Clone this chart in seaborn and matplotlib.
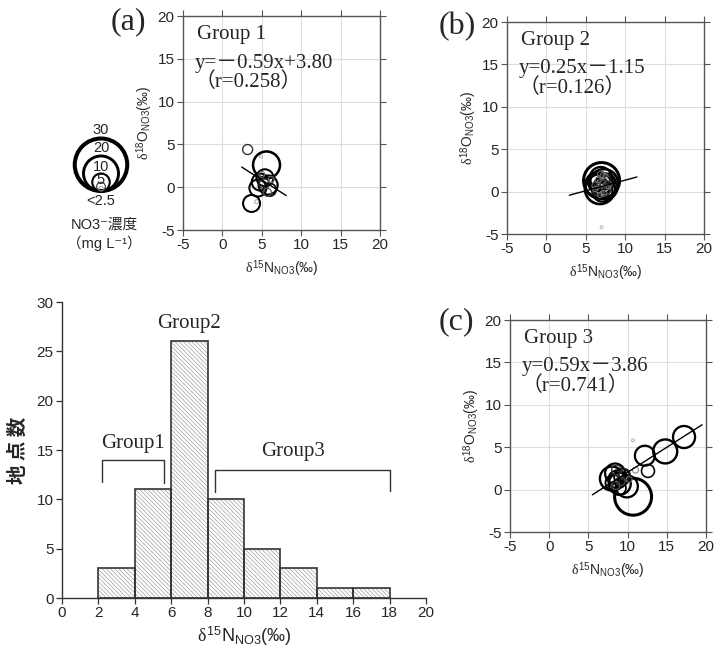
import numpy as np
import seaborn as sns
import matplotlib.pyplot as plt

# histogram of d15N-NO3 (2 permil bins)
bin_edges = [2, 4, 6, 8, 10, 12, 14, 16, 18]
bin_counts = [3, 11, 26, 10, 5, 3, 1, 1]

# group 1 -> panel (a)
g1_n15 = [3.2, 4.9, 5.6, 4.8, 5.8, 4.5, 5.4, 6.0, 3.7, 4.35, 5.3, 5.0, 5.7, 6.2]
g1_o18 = [4.4, 3.6, 2.6, 0.6, 0.25, -0.1, 1.1, -0.3, -1.9, -1.7, 0.4, 1.5, -0.6, 0.9]
g1_no3 = [5.7, 1.7, 15.4, 9.7, 10.9, 9.7, 9.7, 7.4, 9.7, 2.3, 5.7, 3.4, 4.6, 3.4]

# group 2 -> panel (b)
g2_n15 = [7.0, 6.8, 7.3, 6.6, 7.5, 6.9, 7.1, 6.4, 7.7, 7.2, 6.7, 7.4, 6.5,
          7.0, 7.6, 6.3, 7.8, 6.9, 7.2, 6.6, 7.3, 6.8, 7.5, 6.2, 7.9, 7.0]
g2_o18 = [1.3, 0.3, 1.0, 0.8, 0.5, 1.6, 0.0, 1.1, 1.2, 0.6, 0.4, 1.5, 0.1,
          0.9, 0.2, 0.7, 0.8, 2.0, 1.9, 1.4, -0.2, -0.4, 1.8, 0.3, 0.5, -4.2]
g2_no3 = [20.6, 17.1, 16.0, 14.9, 13.7, 12.6, 11.4, 10.3, 9.1, 8.0, 6.9, 6.3, 5.7,
          5.1, 5.1, 4.6, 4.6, 4.0, 3.4, 3.4, 3.4, 2.9, 2.9, 2.9, 2.3, 1.7]

# group 3 -> panel (c)
g3_n15 = [10.7, 17.2, 14.8, 12.2, 12.6, 10.7, 8.0, 9.0, 8.4, 9.9,
          8.7, 9.3, 8.9, 8.2, 9.6, 8.6, 11.0, 9.1, 8.5, 10.2]
g3_o18 = [-0.84, 6.2, 4.5, 4.0, 2.2, 5.8, 1.3, 0.7, 1.9, 0.38,
          1.2, 1.5, 0.2, 0.8, 1.8, 2.3, 2.3, 1.0, 0.5, 1.2]
g3_no3 = [21.1, 12.6, 13.7, 11.4, 7.4, 1.7, 13.7, 12.6, 11.4, 12.6,
          10.3, 9.1, 8.0, 9.1, 6.3, 5.7, 3.4, 5.1, 4.6, 3.4]

# regression lines
fit_slope = [-0.59, 0.25, 0.59]
fit_icpt = [3.80, -1.15, -3.86]
fit_xmin = [2.45, 2.9, 5.5]
fit_xmax = [8.1, 11.5, 19.5]
group_names = ["Group 1", "Group 2", "Group 3"]
eq_texts = ["y=－0.59x+3.80", "y=0.25x－1.15", "y=0.59x－3.86"]
r_texts = ["（r=0.258）", "（r=0.126）", "（r=0.741）"]

# bubble legend
legend_conc = [30, 20, 10, 5, 2.5]
legend_labels = ["30", "20", "10", "5", "<2.5"]

# brackets on the histogram
g1_brk_x = [2.2, 2.2, 5.6, 5.6]
g1_brk_y = [11.8, 14.0, 14.0, 11.7]
g3_brk_x = [8.4, 8.4, 18.0, 18.0]
g3_brk_y = [10.7, 13.0, 13.0, 10.8]

sns.set_style("white")
plt.rcParams["font.family"] = ["Liberation Sans", "DejaVu Sans", "Noto Sans CJK JP"]
plt.rcParams["mathtext.fontset"] = "custom"
plt.rcParams["mathtext.rm"] = "Liberation Sans"
plt.rcParams["mathtext.sf"] = "Liberation Sans"
plt.rcParams["mathtext.it"] = "Liberation Serif"
plt.rcParams["axes.unicode_minus"] = False
plt.rcParams["hatch.linewidth"] = 0.5
SERIF = ["Liberation Serif", "Noto Sans CJK JP"]

W, H = 726, 657
fig = plt.figure(figsize=(W / 100, H / 100), dpi=100)


def px_axes(x0, y0, x1, y1):
    return fig.add_axes([x0 / W, 1 - y1 / H, (x1 - x0) / W, (y1 - y0) / H])


def bubble_style(conc):
    # circle diameter grows with NO3 concentration, strokes get darker/thicker
    conc = np.asarray(conc, float)
    d_px = 1.75 * conc
    lw = np.interp(conc, [2, 5, 10, 20, 30], [0.5, 0.9, 1.5, 2.1, 2.9])
    grey = np.interp(conc, [2, 4, 6, 8], [0.6, 0.4, 0.15, 0.0])
    ec = [(g, g, g) for g in grey]
    return (d_px * 0.72) ** 2, lw, ec


def scatter_panel(ax, xs, ys, conc, k):
    s, lw, ec = bubble_style(conc)
    sns.scatterplot(x=xs, y=ys, s=s, facecolor="none", edgecolor=ec,
                    linewidth=lw, ax=ax, zorder=3)
    xr = np.array([fit_xmin[k], fit_xmax[k]])
    sns.lineplot(x=xr, y=fit_slope[k] * xr + fit_icpt[k], color="black",
                 linewidth=1.0, ax=ax, zorder=4)
    ax.set_xlim(-5, 20)
    ax.set_ylim(-5, 20)
    ticks = [-5, 0, 5, 10, 15, 20]
    ax.set_xticks(ticks)
    ax.set_yticks(ticks)
    ax.grid(True, color="#dddddd", linewidth=0.8)
    ax.set_axisbelow(True)
    for sp in ax.spines.values():
        sp.set_color("#555555")
        sp.set_linewidth(1.0)
    ax.tick_params(direction="out", length=4, width=0.8, color="#555555",
                   labelsize=11, top=True, right=True, bottom=True, left=True,
                   pad=2)
    ax.set_xlabel(r"$\mathit{\delta}^{15}\mathrm{N}_{\mathrm{NO3}}$(‰)", fontsize=10, labelpad=4)
    ax.set_ylabel(r"$\mathit{\delta}^{18}\mathrm{O}_{\mathrm{NO3}}$(‰)", fontsize=10, labelpad=2)
    ax.text(0.07, 0.915, group_names[k], transform=ax.transAxes, family=SERIF,
            fontsize=15, va="center", ha="left")
    ax.text(0.06, 0.78, eq_texts[k], transform=ax.transAxes, family=SERIF,
            fontsize=15, va="center", ha="left")
    ax.text(0.06, 0.69, r_texts[k], transform=ax.transAxes, family=SERIF,
            fontsize=15, va="center", ha="left")


ax_a = px_axes(183, 16, 380, 230)
ax_b = px_axes(507, 22, 704, 234)
ax_c = px_axes(510, 320, 706, 532)
scatter_panel(ax_a, g1_n15, g1_o18, g1_no3, 0)
scatter_panel(ax_b, g2_n15, g2_o18, g2_no3, 1)
scatter_panel(ax_c, g3_n15, g3_o18, g3_no3, 2)

for lab, (x, y) in zip(["(a)", "(b)", "(c)"], [(128, 22), (457, 27), (456, 322)]):
    fig.text(x / W, 1 - y / H, lab, family=SERIF, fontsize=23, ha="center", va="center")

# bubble size legend (axes units = pixels)
ax_l = px_axes(55, 115, 135, 210)
ax_l.set_xlim(0, 80)
ax_l.set_ylim(0, 95)
ax_l.axis("off")
ls, llw, lec = bubble_style(legend_conc)
l_d = np.sqrt(ls) / 0.72
sns.scatterplot(x=[46] * len(legend_conc), y=19 + l_d / 2, s=ls, facecolor="none",
                edgecolor=lec, linewidth=llw, ax=ax_l, clip_on=False)
for lab, yy in zip(legend_labels, [80, 62, 43, 30, 9]):
    ax_l.text(46, yy, lab, fontsize=10.5, ha="center", va="center")
fig.text(104 / W, 1 - 225 / H, "NO3⁻濃度", fontsize=10.5, ha="center", va="center")
fig.text(104 / W, 1 - 243 / H, "（mg L⁻¹）", fontsize=10.5, ha="center", va="center")

# histogram
ax_h = px_axes(62, 302, 426, 598)
centers = (np.array(bin_edges[:-1]) + np.array(bin_edges[1:])) / 2
sns.histplot(x=centers, weights=bin_counts, bins=bin_edges, facecolor="white",
             edgecolor="#a0a0a0", linewidth=0, hatch="\\" * 8, ax=ax_h)
sns.histplot(x=centers, weights=bin_counts, bins=bin_edges, fill=False,
             color="#333333", linewidth=1.2, ax=ax_h)
sns.lineplot(x=g1_brk_x, y=g1_brk_y, sort=False, estimator=None,
             color="#333333", linewidth=1.0, ax=ax_h)
sns.lineplot(x=g3_brk_x, y=g3_brk_y, sort=False, estimator=None,
             color="#333333", linewidth=1.0, ax=ax_h)
ax_h.text(3.9, 15.7, "Group1", family=SERIF, fontsize=15, ha="center", va="center")
ax_h.text(7.0, 27.8, "Group2", family=SERIF, fontsize=15, ha="center", va="center")
ax_h.text(12.7, 14.8, "Group3", family=SERIF, fontsize=15, ha="center", va="center")
ax_h.set_xlim(0, 20)
ax_h.set_ylim(0, 30)
ax_h.set_xticks(range(0, 21, 2))
ax_h.set_yticks(range(0, 31, 5))
sns.despine(ax=ax_h)
for sp in ["left", "bottom"]:
    ax_h.spines[sp].set_color("#333333")
    ax_h.spines[sp].set_linewidth(1.0)
ax_h.tick_params(direction="out", length=4, width=0.9, color="#333333",
                 labelsize=11, bottom=True, left=True, pad=2)
ax_h.set_xlabel(r"$\mathit{\delta}^{15}\mathrm{N}_{\mathrm{NO3}}$(‰)", fontsize=13, labelpad=3)
ax_h.set_ylabel("地 点 数", family=["Noto Sans CJK JP"], fontsize=14, fontweight="bold")
ax_h.yaxis.set_label_coords(-0.093, 0.5)

fig.savefig("out.png", dpi=100)
